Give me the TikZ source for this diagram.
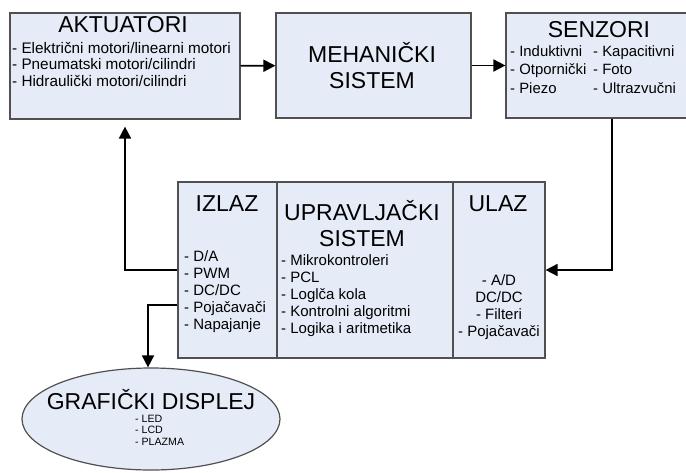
\documentclass[tikz,border=0pt]{standalone}
\usepackage{fontspec}
\setmainfont{Liberation Sans}
\usetikzlibrary{arrows.meta, positioning, shapes.geometric}
\definecolor{blkfill}{RGB}{230,236,247}
\definecolor{blkline}{RGB}{80,80,80}

\begin{document}
\begin{tikzpicture}[x=1pt, y=-1pt,
  box/.style={draw=blkline, fill=blkfill, line width=1.2pt, inner sep=0pt},
  ttl/.style={font=\fontsize{23}{26}\selectfont, align=center, inner sep=0pt},
  itm/.style={font=\fontsize{15}{17}\selectfont, align=left, anchor=north west, inner sep=0pt},
  arrow/.style={-{Triangle[length=12pt, width=12pt]}, line width=1.8pt}
]
  \useasboundingbox (0,0) rectangle (686,472);

  % gornji red
  \node[box, minimum width=230, minimum height=106] (akt) at (125,66) {};
  \node[box, minimum width=195, minimum height=105] (meh) at (373.5,65.5) {};
  \node[box, minimum width=184, minimum height=105] (sen) at (598,65.5) {};
  \node[ttl] (aktT) at (123,25) {AKTUATORI};
  \node[itm, font=\fontsize{15.3}{16.5}\selectfont] (aktI) at (12,42)
    {- Električni motori/linearni motori\\ - Pneumatski motori/cilindri\\ - Hidraulički motori/cilindri};
  \node[ttl] (mehT) at (372,66) {MEHANIČKI\\ SISTEM};
  \node[ttl] (senT) at (599,30) {SENZORI};
  \node[itm, font=\fontsize{14.9}{18}\selectfont] (senA) at (510,46)
    {- Induktivni\\ - Otpornički\\ - Piezo};
  \node[itm, font=\fontsize{14.9}{18}\selectfont] (senB) at (593,46)
    {- Kapacitivni\\ - Foto\\ - Ultrazvučni};
  \draw[arrow] (akt) -- (meh);
  \draw[arrow] (meh) -- (sen);

  % upravljacki blok
  \node[box, minimum width=99, minimum height=176] (izl) at (227.5,270) {};
  \node[box, minimum width=176, minimum height=176] (upr) at (365,270) {};
  \node[box, minimum width=92, minimum height=176] (ula) at (499,270) {};
  \node[ttl] (izlT) at (227,203.5) {IZLAZ};
  \node[itm] (izlI) at (184,250)
    {- D/A\\ - PWM\\ - DC/DC\\ - Pojačavači\\ - Napajanje};
  \node[ttl] (uprT) at (362,224) {UPRAVLJAČKI\\ SISTEM};
  \node[itm] (uprI) at (281,254)
    {- Mikrokontroleri\\ - PCL\\ - Loglča kola\\ - Kontrolni algoritmi\\ - Logika i aritmetika};
  \node[ttl] (ulaT) at (498,203.5) {ULAZ};
  \node[itm, align=center, anchor=north] (ulaI) at (499,274)
    {- A/D\\ DC/DC\\ - Filteri\\ - Pojačavači};

  \draw[arrow] ([xshift=14pt]sen.south) |- (ula.east);
  \draw[arrow, shorten >=7pt] (izl.west) -| (akt.south);

  % displej
  \node[box, ellipse, minimum width=258, minimum height=102] (disp) at (151,419) {};
  \node[ttl] (dispT) at (151,399.5) {GRAFIČKI DISPLEJ};
  \node[itm, font=\fontsize{10.6}{11.4}\selectfont] (dispI) at (135,415)
    {- LED\\ - LCD\\ - PLAZMA};
  \draw[arrow] ([yshift=-35pt]izl.west) -| ([xshift=-3pt]disp.north);
\end{tikzpicture}
\end{document}
